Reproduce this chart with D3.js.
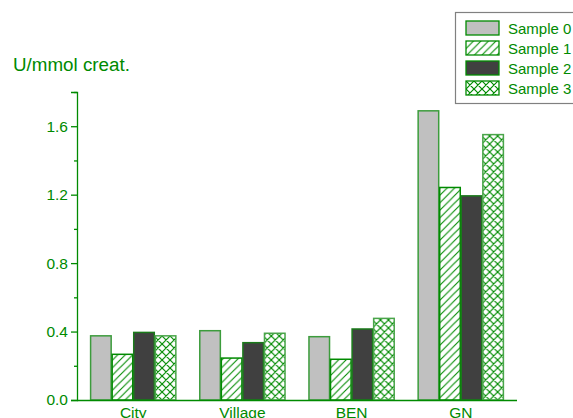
<!DOCTYPE html>
<html>
<head>
<meta charset="utf-8">
<script src="https://d3js.org/d3.v7.min.js"></script>
<style>
  body { margin: 0; background: #fff; }
  svg { display: block; font-family: Arial, "Liberation Sans", sans-serif; }
</style>
</head>
<body>
<svg id="chart" width="573" height="418"></svg>
<script>
// data
var categories = ["City", "Village", "BEN", "GN"];
var seriesNames = ["Sample 0", "Sample 1", "Sample 2", "Sample 3"];
var sample0 = [0.375, 0.405, 0.37, 1.69];
var sample1 = [0.267, 0.245, 0.238, 1.242];
var sample2 = [0.395, 0.335, 0.415, 1.193];
var sample3 = [0.375, 0.39, 0.477, 1.551];
var yTicks = [0.0, 0.4, 0.8, 1.2, 1.6];
var yMinorTicks = [0.2, 0.6, 1.0, 1.4, 1.8];

var green = "#008a00";
var svg = d3.select("#chart");

var x0 = 77, x1 = 517, yBottom = 400, yTop = 92;

var x = d3.scaleBand().domain(categories).range([x0, x1])
    .paddingInner(0.21).paddingOuter(0.12);
var xs = d3.scaleBand().domain(seriesNames).range([0, x.bandwidth()]);
var y = d3.scaleLinear().domain([0, 1.8]).range([yBottom, yTop]);

// patterns
var defs = svg.append("defs");
var p1 = defs.append("pattern").attr("id", "hatch").attr("patternUnits", "userSpaceOnUse")
    .attr("width", 7.5).attr("height", 7.5);
p1.append("rect").attr("width", 7.5).attr("height", 7.5).attr("fill", "#fff");
p1.append("path").attr("d", "M-1,8.5 L8.5,-1 M-2,2 L2,-2 M5.5,9.5 L9.5,5.5")
    .attr("stroke", green).attr("stroke-width", 1.1);

var p3 = defs.append("pattern").attr("id", "cross").attr("patternUnits", "userSpaceOnUse")
    .attr("width", 8).attr("height", 8);
p3.append("rect").attr("width", 8).attr("height", 8).attr("fill", "#fff");
p3.append("path").attr("d", "M0,0 L8,8 M8,0 L0,8 M-1,7 L1,9 M7,-1 L9,1 M-1,1 L1,-1 M7,9 L9,7")
    .attr("stroke", green).attr("stroke-width", 1.2);

var fills = ["#c0c0c0", "url(#hatch)", "#404040", "url(#cross)"];
var strokes = ["#3c9c3c", green, "#1a7a1a", "#4aa54a"];
var allSeries = [sample0, sample1, sample2, sample3];

// bars
var groups = svg.append("g").selectAll("g")
  .data(categories)
  .join("g")
    .attr("transform", function(d) { return "translate(" + x(d) + ",0)"; });

groups.selectAll("rect")
  .data(function(d, i) { return allSeries.map(function(s, k) { return {k: k, v: s[i]}; }); })
  .join("rect")
    .attr("x", function(d) { return xs(seriesNames[d.k]) + 0.5; })
    .attr("y", function(d) { return y(d.v); })
    .attr("width", xs.bandwidth() - 1)
    .attr("height", function(d) { return yBottom - y(d.v); })
    .attr("fill", function(d) { return fills[d.k]; })
    .attr("stroke", function(d) { return strokes[d.k]; })
    .attr("stroke-width", 1.5);

// y axis
var yAxis = svg.append("g").attr("transform", "translate(" + x0 + ",0)")
    .call(d3.axisLeft(y).tickValues(yTicks).tickFormat(d3.format(".1f")).tickSizeOuter(0).tickSize(6).tickPadding(3));
svg.append("g").attr("transform", "translate(" + x0 + ",0)")
    .call(d3.axisLeft(y).tickValues(yMinorTicks).tickFormat("").tickSizeOuter(0).tickSize(3))
    .select(".domain").remove();

// x axis
var xAxis = svg.append("g").attr("transform", "translate(0," + yBottom + ")")
    .call(d3.axisBottom(x).tickSize(0).tickSizeOuter(0).tickPadding(7));
xAxis.select(".domain").attr("d", "M" + x0 + ",0.5H" + x1);

svg.selectAll(".domain").attr("stroke", green).attr("stroke-width", 1.3);
svg.selectAll(".tick line").attr("stroke", green).attr("stroke-width", 1.3);
svg.selectAll(".tick text").attr("fill", green).attr("font-size", 15.5)
    .attr("font-family", "Arial, 'Liberation Sans', sans-serif");

// y title
svg.append("text").attr("x", 13).attr("y", 71)
    .attr("fill", green).attr("font-size", 18.8).text("U/mmol creat.");

// legend
var legend = svg.append("g");
legend.append("rect").attr("x", 455.5).attr("y", 12.5).attr("width", 130).attr("height", 91)
    .attr("fill", "#fff").attr("stroke", "#808080").attr("stroke-width", 1.2);
var li = legend.selectAll("g.item").data(seriesNames).join("g").attr("class", "item")
    .attr("transform", function(d, i) { return "translate(466," + (21 + i * 20) + ")"; });
li.append("rect").attr("width", 33).attr("height", 14)
    .attr("fill", function(d, i) { return fills[i]; })
    .attr("stroke", green).attr("stroke-width", 1.3);
li.append("text").attr("x", 42).attr("y", 12.5)
    .attr("fill", green).attr("font-size", 15).text(function(d) { return d; });
</script>
</body>
</html>
